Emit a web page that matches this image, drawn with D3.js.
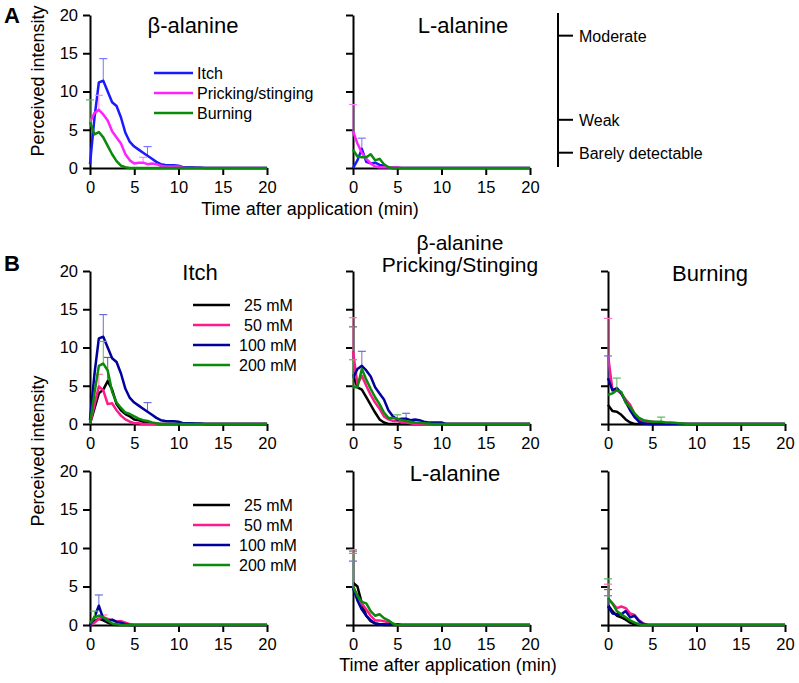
<!DOCTYPE html>
<html>
<head>
<meta charset="utf-8">
<script src="https://cdn.jsdelivr.net/npm/d3@7/dist/d3.min.js"></script>
<style>
body { margin: 0; background: #fff; }
svg text { font-family: "Liberation Sans", Arial, sans-serif; fill: #000; }
</style>
</head>
<body>
<div id="visualHolder"></div>
<script>
const width = 799
const height = 683

// sampling times (min); every curve ends flat at tEnd
const times = [0, 0.5, 1, 1.5, 2, 2.5, 3, 3.5, 4, 4.5, 5, 5.5, 6, 6.5, 7, 7.5, 8, 8.5, 9, 9.5, 10, 10.5, 11, 11.5, 12, 12.5, 13]
const tEnd = 20
const xTicks = [0, 5, 10, 15, 20]
const yTicks = [0, 5, 10, 15, 20]

// beta-alanine, by concentration
const itchB25 = [0, 2.0, 4.0, 4.5, 5.6, 4.5, 2.6, 1.8, 1.3, 1.0, 0.6, 0.5, 0.3, 0.2, 0.1, 0]
const itchB50 = [0, 2.5, 4.9, 4.4, 2.6, 2.7, 1.8, 1.1, 0.6, 0.3, 0.1, 0.1, 0]
const itchB100 = [0.5, 6.5, 11.2, 11.4, 10.0, 8.6, 8.1, 6.6, 4.6, 3.4, 2.8, 2.4, 2.0, 1.6, 1.2, 0.8, 0.5, 0.4, 0.35, 0.35, 0.3, 0.1, 0.1, 0.1, 0.05, 0.05, 0]
const itchB200 = [0, 4.0, 7.6, 7.9, 7.0, 4.2, 2.8, 2.1, 1.5, 1.3, 1.0, 0.7, 0.5, 0.4, 0.2, 0.1, 0]

const prickB25 = [6.5, 4.8, 4.5, 3.5, 2.5, 1.5, 0.6, 0.2, 0]
const prickB50 = [9.5, 5.2, 6.3, 5.0, 3.8, 2.8, 2.0, 1.0, 0.6, 0.4, 0.4, 0.2, 0.2, 0.1, 0]
const prickB100 = [6.0, 7.2, 7.6, 7.0, 6.2, 4.8, 4.0, 3.2, 1.8, 1.0, 0.6, 0.7, 0.7, 0.5, 0.6, 0.5, 0.3, 0.2, 0.2, 0.2, 0.2, 0]
const prickB200 = [4.8, 4.8, 7.2, 5.8, 4.6, 3.5, 2.6, 1.5, 0.8, 0.8, 0.7, 0.5, 0.4, 0.3, 0.2, 0.15, 0.1, 0.05, 0]

const burnB25 = [2.5, 1.7, 1.6, 1.2, 0.6, 0.2, 0]
const burnB50 = [9.0, 4.5, 4.4, 4.0, 3.2, 2.5, 1.3, 0.6, 0.4, 0.3, 0.3, 0.2, 0.1, 0.05, 0]
const burnB100 = [6.0, 4.4, 4.7, 4.0, 2.9, 1.8, 0.9, 0.3, 0.1, 0]
const burnB200 = [3.8, 4.0, 4.4, 4.2, 2.8, 2.2, 1.4, 0.8, 0.5, 0.4, 0.3, 0.3, 0.3, 0.2, 0.2, 0.15, 0.1, 0.05, 0]

// L-alanine, by concentration
const itchL25 = [0, 0.5, 0.8, 0.6, 0.3, 0.1, 0]
const itchL50 = [0, 0.3, 0.8, 1.0, 0.8, 0.6, 0.5, 0.5, 0.3, 0.1, 0]
const itchL100 = [0, 1.0, 2.5, 0.8, 0.6, 0.7, 0.4, 0.3, 0.1, 0]
const itchL200 = [0.2, 1.0, 1.2, 1.0, 0.6, 0.2, 0.1, 0]

const prickL25 = [5.5, 5.0, 2.8, 1.2, 0.5, 0.2, 0.1, 0]
const prickL50 = [5.0, 3.8, 2.8, 2.0, 1.2, 0.6, 0.6, 0.5, 0.3, 0.1, 0]
const prickL100 = [4.8, 3.2, 2.0, 1.2, 0.6, 0.2, 0.1, 0.1, 0.1, 0.1, 0.1, 0]
const prickL200 = [5.0, 3.8, 3.0, 2.8, 1.8, 1.2, 1.4, 0.9, 0.6, 0.2, 0]

const burnL25 = [2.6, 1.8, 1.2, 1.0, 0.7, 0.3, 0.1, 0]
const burnL50 = [3.4, 2.8, 2.2, 2.4, 2.2, 1.5, 1.3, 0.6, 0.2, 0]
const burnL100 = [2.4, 1.5, 1.4, 1.4, 1.8, 1.0, 1.2, 0.5, 0.1, 0]
const burnL200 = [3.5, 2.8, 1.8, 1.4, 1.0, 0.6, 0.3, 0.1, 0]

// SEM bars: [time, upper value]
const errItchB = [[[2, 8.7]], [[1, 6.5]], [[1.5, 14.3], [6.5, 2.8]], [[1.5, 10.8]]]
const errPrickB = [[[0, 12.7]], [[0, 13.9]], [[1, 9.5], [6, 1.4]], [[0, 8.4], [5, 1.2]]]
const errBurnB = [[], [[0, 13.8]], [[0, 8.9]], [[1, 6.0], [6, 0.9]]]
const errItchL = [[], [[1.5, 1.3]], [[1, 3.9]], [[0.5, 1.8]]]
const errPrickL = [[[0, 9.6]], [[0, 9.8]], [[0, 8.3]], [[0, 9.3]]]
const errBurnL = [[[0, 4.6]], [[0, 5.3]], [[0, 3.8]], [[0, 6.0]]]

const concs = ["25 mM", "50 mM", "100 mM", "200 mM"]
const concColor = ["#000000", "#ff1a8c", "#00009c", "#0a8a0a"]
const concErr = ["#666666", "#ff70b8", "#6b6bd6", "#5cb85c"]

const sensations = ["Itch", "Pricking/stinging", "Burning"]
const sensColor = ["#1a1aff", "#ff22ff", "#0a8a0a"]
const sensErr = ["#7777ff", "#ff80ff", "#5cb85c"]

const gLMSLabels = ["Moderate", "Weak", "Barely detectable"]
const gLMSValues = [17.3, 6.3, 2.0]

const colX = [90, 353, 608]
const panelW = 177

const svg = d3.select("#visualHolder")
    .append("svg")
    .attr("width", width)
    .attr("height", height)

function points(vals) {
    let p = vals.map((v, i) => [times[i], v])
    p.push([tEnd, 0])
    return p
}

function panel(x0, top, bottom, showY) {
    const x = d3.scaleLinear().domain([0, 20]).range([x0, x0 + panelW])
    const y = d3.scaleLinear().domain([0, 20]).range([bottom, top])

    const xAxis = d3.axisBottom(x).tickValues(xTicks).tickSize(7).tickSizeOuter(0).tickPadding(6)
    const yAxis = d3.axisLeft(y).tickValues(yTicks).tickSize(7).tickSizeOuter(0).tickPadding(5)
    if (!showY) yAxis.tickFormat("")

    for (const [ax, tr] of [[xAxis, `translate(0,${bottom})`], [yAxis, `translate(${x0},0)`]]) {
        const g = svg.append("g").attr("transform", tr).call(ax)
        g.attr("font-family", null).attr("font-size", null)
        g.selectAll("path, line").attr("stroke", "#000").attr("stroke-width", 2)
        g.selectAll("text").attr("font-size", "16.5px")
    }
    return { x, y }
}

function series(p, vals, color, errs, errColor) {
    const line = d3.line().x(d => p.x(d[0])).y(d => p.y(d[1]))
    const pts = points(vals)
    const eb = svg.append("g")
    errs.forEach(([t, hi]) => {
        const v = vals[times.indexOf(t)]
        eb.append("line")
            .attr("x1", p.x(t)).attr("x2", p.x(t))
            .attr("y1", p.y(v)).attr("y2", p.y(hi))
            .attr("stroke", errColor).attr("stroke-width", 1)
        eb.append("line")
            .attr("x1", p.x(t) - 4).attr("x2", p.x(t) + 4)
            .attr("y1", p.y(hi)).attr("y2", p.y(hi))
            .attr("stroke", errColor).attr("stroke-width", 1.2)
    })
    svg.append("path")
        .datum(pts)
        .attr("d", line)
        .attr("fill", "none")
        .attr("stroke", color)
        .attr("stroke-width", 2.5)
        .attr("stroke-linejoin", "round")
}

function label(x, y, txt, size, anchor, weight) {
    return svg.append("text")
        .attr("x", x).attr("y", y)
        .attr("font-size", size + "px")
        .attr("text-anchor", anchor || "start")
        .attr("font-weight", weight || "normal")
        .text(txt)
}

// ---------- panel A ----------
const aBeta = panel(colX[0], 15, 168, true)
const aL = panel(colX[1], 15, 168, false)

const aBetaVals = [itchB100, prickB100, burnB100]
const aBetaErr = [errItchB[2], errPrickB[2], errBurnB[2]]
const aLVals = [itchL100, prickL100, burnL100]
const aLErr = [errItchL[2], errPrickL[2], []]

aBetaVals.forEach((v, i) => series(aBeta, v, sensColor[i], aBetaErr[i], sensErr[i]))
aLVals.forEach((v, i) => series(aL, v, sensColor[i], aLErr[i], sensErr[i]))

label(193, 33, "β-alanine", 22, "middle")
label(463, 33, "L-alanine", 22, "middle")

const legendA = svg.append("g").attr("id", "legendA")
sensations.forEach((s, i) => {
    const ly = 73 + i * 20
    legendA.append("line")
        .attr("x1", 154).attr("x2", 193).attr("y1", ly).attr("y2", ly)
        .attr("stroke", sensColor[i]).attr("stroke-width", 2.5)
    legendA.append("text").attr("x", 197).attr("y", ly + 6)
        .attr("font-size", "16px").text(s)
})

// gLMS reference scale
const gLMS = aBeta.y
svg.append("line")
    .attr("x1", 558).attr("x2", 558).attr("y1", 13).attr("y2", 167)
    .attr("stroke", "#000").attr("stroke-width", 2)
gLMSValues.forEach((v, i) => {
    svg.append("line")
        .attr("x1", 557).attr("x2", 573).attr("y1", gLMS(v)).attr("y2", gLMS(v))
        .attr("stroke", "#000").attr("stroke-width", 2)
    label(579, gLMS(v) + 6, gLMSLabels[i], 16)
})

svg.append("text")
    .attr("transform", "translate(44,81) rotate(-90)")
    .attr("text-anchor", "middle")
    .attr("font-size", "18px")
    .text("Perceived intensity")
label(310, 215, "Time after application (min)", 18, "middle")
label(4, 23, "A", 22, "start", "bold")

// ---------- panel B ----------
const rowsB = [[271, 424], [471, 625]]
const betaSets = [[itchB25, itchB50, itchB100, itchB200], [prickB25, prickB50, prickB100, prickB200], [burnB25, burnB50, burnB100, burnB200]]
const betaErrs = [errItchB, errPrickB, errBurnB]
const lSets = [[itchL25, itchL50, itchL100, itchL200], [prickL25, prickL50, prickL100, prickL200], [burnL25, burnL50, burnL100, burnL200]]
const lErrs = [errItchL, errPrickL, errBurnL]

;[betaSets, lSets].forEach((sets, r) => {
    const errs = r == 0 ? betaErrs : lErrs
    sets.forEach((set, c) => {
        const p = panel(colX[c], rowsB[r][0], rowsB[r][1], c == 0)
        set.forEach((v, k) => series(p, v, concColor[k], errs[c][k], concErr[k]))
    })
    const legend = svg.append("g").attr("class", "legend-conc")
    concs.forEach((s, k) => {
        const ly = rowsB[r][0] + 34 + k * 20
        legend.append("line")
            .attr("x1", 193).attr("x2", 230).attr("y1", ly).attr("y2", ly)
            .attr("stroke", concColor[k]).attr("stroke-width", 2.5)
        legend.append("text").attr("x", k < 2 ? 244 : 239).attr("y", ly + 6)
            .attr("font-size", "16px").text(s)
    })
})

label(200, 280, "Itch", 22, "middle")
label(460, 250, "β-alanine", 21, "middle")
label(460, 272, "Pricking/Stinging", 21, "middle")
label(710, 281, "Burning", 22, "middle")
label(455, 481, "L-alanine", 22, "middle")

svg.append("text")
    .attr("transform", "translate(44,451) rotate(-90)")
    .attr("text-anchor", "middle")
    .attr("font-size", "18px")
    .text("Perceived intensity")
label(448, 671, "Time after application (min)", 18, "middle")
label(4, 271, "B", 22, "start", "bold")
</script>
</body>
</html>
